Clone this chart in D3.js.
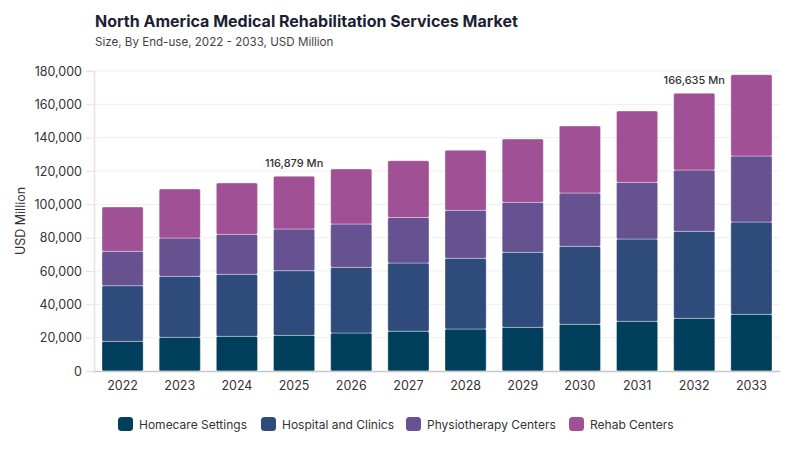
<!DOCTYPE html>
<html>
<head>
<meta charset="utf-8">
<script src="https://cdn.jsdelivr.net/npm/d3@7"></script>
<style>
  body { margin: 0; background: #fff; }
  svg { font-family: Inter, "Noto Sans", sans-serif; }
</style>
</head>
<body>
<svg width="800" height="450"></svg>
<script>
// years on the x axis
const years = ['2022','2023','2024','2025','2026','2027','2028','2029','2030','2031','2032','2033']
const segments = ['Homecare Settings','Hospital and Clinics','Physiotherapy Centers','Rehab Centers']
// USD Million
const homecare      = [17800, 20200, 20800, 21400, 22800, 23900, 25200, 26200, 28000, 29800, 31600, 34000]
const hospital      = [33400, 36600, 37200, 38800, 39400, 40900, 42400, 45000, 46800, 49400, 52200, 55400]
const physiotherapy = [20600, 23000, 24000, 25000, 26000, 27300, 28800, 30000, 32000, 34000, 36800, 39600]
const rehab         = [26600, 29400, 30800, 31679, 33000, 34100, 36000, 38000, 40200, 42800, 46035, 48800]
const yTicks = [0, 20000, 40000, 60000, 80000, 100000, 120000, 140000, 160000, 180000]
const callouts = [{ year: '2025', text: '116,879 Mn' }, { year: '2032', text: '166,635 Mn' }]
const colors = ['#003f5c', '#2f4b7c', '#665191', '#a05195']

const svg = d3.select('svg')
const margin = { top: 71, right: 20, bottom: 79, left: 94 }
const width = 800, height = 450
const innerW = width - margin.left - margin.right
const innerH = height - margin.top - margin.bottom

// title
svg.append('text')
    .attr('x', 95).attr('y', 27)
    .style('font-size', '16px').style('font-weight', 700).style('fill', '#1c1f33')
    .text('North America Medical Rehabilitation Services Market')
svg.append('text')
    .attr('x', 95).attr('y', 46)
    .style('font-size', '11.6px').style('fill', '#444')
    .text('Size, By End-use, 2022 - 2033, USD Million')

const rows = years.map((y, i) => ({
  year: y,
  [segments[0]]: homecare[i],
  [segments[1]]: hospital[i],
  [segments[2]]: physiotherapy[i],
  [segments[3]]: rehab[i]
}))
const stacked = d3.stack().keys(segments)(rows)

const x = d3.scaleBand().domain(years).range([0, innerW]).paddingInner(0.28).paddingOuter(0.14)
const y = d3.scaleLinear().domain([0, 180000]).range([innerH, 0])
const color = d3.scaleOrdinal().domain(segments).range(colors)

const g = svg.append('g').attr('transform', `translate(${margin.left},${margin.top})`)

// grid
g.append('g').selectAll('line')
  .data(yTicks.slice(1))
  .enter().append('line')
    .attr('x1', 0).attr('x2', innerW)
    .attr('y1', d => y(d)).attr('y2', d => y(d))
    .style('stroke', '#efefef')

// y axis
const yAxis = g.append('g')
  .call(d3.axisLeft(y).tickValues(yTicks).tickFormat(d3.format(',')).tickSize(8).tickPadding(4))
yAxis.select('.domain').style('stroke', '#e2e2e2').style('stroke-width', 1.5)
yAxis.selectAll('.tick line').style('stroke', '#e2e2e2')
yAxis.selectAll('.tick text').style('font-size', '12.5px').style('fill', '#333').style('font-family', 'Inter, sans-serif')

svg.append('text')
    .attr('transform', 'translate(25,221) rotate(-90)')
    .attr('text-anchor', 'middle')
    .style('font-size', '12.5px').style('fill', '#333')
    .text('USD Million')

// bars
g.append('g').selectAll('g')
  .data(stacked)
  .enter().append('g')
    .style('fill', d => color(d.key))
  .selectAll('rect')
  .data(d => d)
  .enter().append('rect')
    .attr('x', d => x(d.data.year))
    .attr('y', d => y(d[1]))
    .attr('width', x.bandwidth())
    .attr('height', d => y(d[0]) - y(d[1]))
    .attr('rx', 1.5)
    .style('stroke', 'rgba(255,255,255,0.35)')
    .style('stroke-width', 1)

// x axis
const xAxis = g.append('g')
    .attr('transform', `translate(0,${innerH})`)
    .call(d3.axisBottom(x).tickSize(0).tickPadding(10))
xAxis.select('.domain').style('stroke', '#c8c8c8').style('stroke-width', 1.5)
xAxis.selectAll('.tick text').style('font-size', '12.5px').style('fill', '#333').style('font-family', 'Inter, sans-serif')

// total callouts
const totalOf = yr => d3.sum(segments, k => rows.find(r => r.year === yr)[k])
g.append('g').selectAll('text')
  .data(callouts)
  .enter().append('text')
    .attr('x', d => x(d.year) + x.bandwidth() / 2)
    .attr('y', d => y(totalOf(d.year)) - 9)
    .attr('text-anchor', 'middle')
    .style('font-size', '11px').style('font-weight', 500).style('fill', '#333')
    .text(d => d.text)

// legend
const legendX = [118, 261, 406, 569]
const legend = svg.append('g').selectAll('g')
  .data(segments)
  .enter().append('g')
    .attr('transform', (d, i) => `translate(${legendX[i]},417)`)
legend.append('rect')
    .attr('width', 15).attr('height', 14).attr('rx', 3.5)
    .style('fill', d => color(d))
legend.append('text')
    .attr('x', 21).attr('y', 11.5)
    .style('font-size', '12px').style('fill', '#333')
    .text(d => d)
</script>
</body>
</html>
